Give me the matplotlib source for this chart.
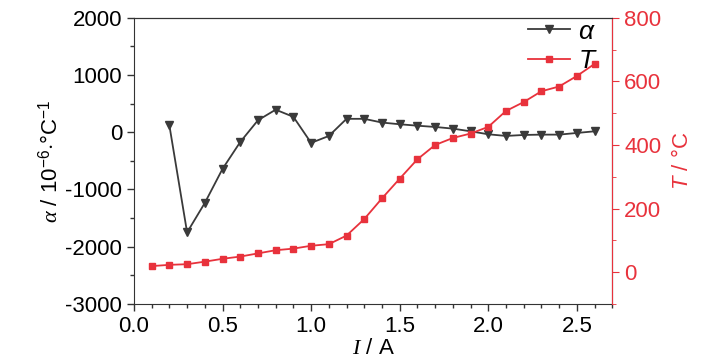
import matplotlib
matplotlib.use("Agg")
import matplotlib.pyplot as plt
from matplotlib.ticker import MultipleLocator

plt.rcParams['font.family'] = ['Liberation Sans', 'DejaVu Sans']
plt.rcParams['axes.unicode_minus'] = False
plt.rcParams['mathtext.fontset'] = 'custom'
plt.rcParams['mathtext.it'] = 'Liberation Serif:italic'
plt.rcParams['mathtext.rm'] = 'Liberation Sans'
plt.rcParams['mathtext.sf'] = 'Liberation Sans:italic'

# current (A)
current_alpha = [0.2, 0.3, 0.4, 0.5, 0.6, 0.7, 0.8, 0.9, 1.0, 1.1, 1.2, 1.3, 1.4,
                 1.5, 1.6, 1.7, 1.8, 1.9, 2.0, 2.1, 2.2, 2.3, 2.4, 2.5, 2.6]
alpha = [120, -1750, -1235, -640, -170, 210, 395, 270, -185, -65, 235, 235, 170,
         140, 115, 93, 64, 17, -35, -64, -47, -41, -41, -12, 17]

current_T = [0.1, 0.2, 0.3, 0.4, 0.5, 0.6, 0.7, 0.8, 0.9, 1.0, 1.1, 1.2, 1.3, 1.4,
             1.5, 1.6, 1.7, 1.8, 1.9, 2.0, 2.1, 2.2, 2.3, 2.4, 2.5, 2.6]
temp = [19, 23, 25, 33, 42, 49, 59, 69, 74, 83, 88, 115, 167, 232,
        294, 355, 400, 422, 436, 457, 507, 535, 569, 584, 617, 655]

red = '#e8323c'
dark = '#3a3a3a'

fig = plt.figure(figsize=(7.28, 3.64), dpi=100)
ax = fig.add_axes([0.184, 0.165, 0.657, 0.786])
ax2 = ax.twinx()

l1, = ax.plot(current_alpha, alpha, color=dark, marker='v', ms=6, lw=1.3, label='α')
l2, = ax2.plot(current_T, temp, color=red, marker='s', ms=5, lw=1.3, label='T')

ax.set_xlim(0, 2.7)
ax.set_ylim(-3000, 2000)
ax2.set_ylim(-100, 800)

ax.xaxis.set_major_locator(MultipleLocator(0.5))
ax.xaxis.set_minor_locator(MultipleLocator(0.1))
ax.yaxis.set_major_locator(MultipleLocator(1000))
ax.yaxis.set_minor_locator(MultipleLocator(500))
ax2.yaxis.set_major_locator(MultipleLocator(200))
ax2.yaxis.set_minor_locator(MultipleLocator(100))

ax.tick_params(which='both', direction='out', labelsize=16, width=1, color='#333333')
ax.tick_params(which='major', length=5)
ax.tick_params(which='minor', length=3)
ax2.tick_params(which='both', direction='out', labelsize=16, colors=red)
ax2.tick_params(which='major', length=5)
ax2.tick_params(which='minor', length=3)

for s in ['left', 'bottom', 'top']:
    ax.spines[s].set_color('#333333')
ax2.spines['right'].set_color(red)
ax2.spines['left'].set_visible(False)
ax2.spines['top'].set_color('#333333')
ax2.spines['bottom'].set_visible(False)

ax.set_xlabel(r'$I$ / A', fontsize=16, labelpad=1)
ax.set_ylabel(r'$\alpha$ / 10$^{\mathrm{-6}}$$\cdot$°C$^{\mathrm{-1}}$', fontsize=16, labelpad=2)
ax2.set_ylabel(r'$\mathsf{T}$ / °C', fontsize=16, color=red, labelpad=8)

ax.legend(handles=[l1, l2], loc='upper right', frameon=False,
          prop={'style': 'italic', 'size': 19},
          handlelength=1.6, handletextpad=0.3, borderaxespad=0.1, labelspacing=0.2,
          bbox_to_anchor=(0.99, 1.04))

fig.savefig('out.png', dpi=100)
